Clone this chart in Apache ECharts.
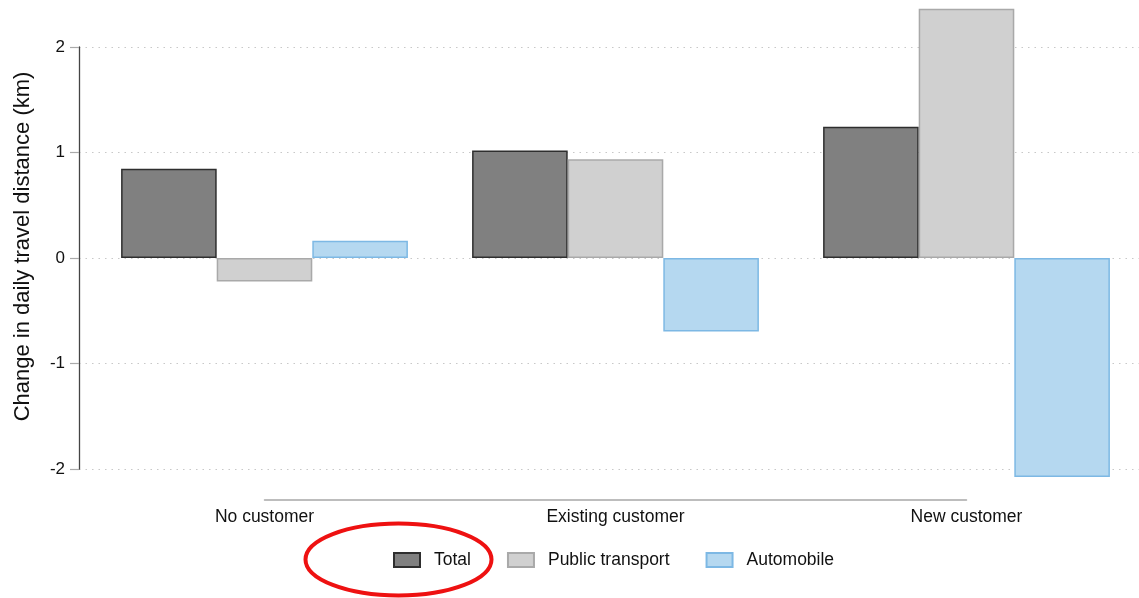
<!DOCTYPE html>
<html>
<head>
<meta charset="utf-8">
<script src="https://cdn.jsdelivr.net/npm/echarts@6/dist/echarts.min.js"></script>
<style>
  html, body { margin: 0; padding: 0; background: #fff; }
  #chart { width: 1139px; height: 598px; }
</style>
</head>
<body>
<div id="chart"></div>
<script>
// Change in daily travel distance by customer group and mode
const categories = ['No customer', 'Existing customer', 'New customer'];
const seriesNames = ['Total', 'Public transport', 'Automobile'];
const totalValues = [0.846, 1.02, 1.245];
const publicTransportValues = [-0.222, 0.935, 2.363];
const automobileValues = [0.164, -0.696, -2.076];
const yTicks = [-2, -1, 0, 1, 2];

const FONT = '"Liberation Sans", Arial, Helvetica, sans-serif';
const styles = [
  { fill: '#808080', border: '#2e2e2e' },
  { fill: '#d0d0d0', border: '#a9a9a9' },
  { fill: '#b5d8f0', border: '#7db8e4' }
];
const valueSets = [totalValues, publicTransportValues, automobileValues];

const yMin = yTicks[0], yMax = yTicks[yTicks.length - 1];

const chart = echarts.init(document.getElementById('chart'), null, { renderer: 'canvas' });

chart.setOption({
  backgroundColor: '#ffffff',
  animation: false,
  textStyle: { fontFamily: FONT },
  grid: [
    // bars: first and last category sit on the ends of the axis line
    { left: 264.5, right: 172.5, top: 47, bottom: 129, containLabel: false },
    // value axis with its dotted guide lines
    { left: 79, right: 0, top: 47, bottom: 129, containLabel: false }
  ],
  xAxis: [
    {
      type: 'category', gridIndex: 0, data: categories, boundaryGap: false,
      offset: 31,
      axisLine: { show: true, onZero: false, lineStyle: { color: '#a8a8a8', width: 1.5 } },
      axisTick: { show: false },
      axisLabel: { color: '#111', fontSize: 17.5, fontFamily: FONT, margin: 8 },
      splitLine: { show: false }
    },
    { type: 'value', gridIndex: 1, show: false, min: 0, max: 1 }
  ],
  yAxis: [
    { type: 'value', gridIndex: 0, show: false, min: yMin, max: yMax, interval: 1 },
    {
      type: 'value', gridIndex: 1, min: yMin, max: yMax, interval: 1,
      name: 'Change in daily travel distance (km)',
      nameLocation: 'middle', nameGap: 45,
      nameTextStyle: { color: '#111', fontSize: 22, fontFamily: FONT, padding: [0, 0, 0, 23] },
      axisLine: { show: true, lineStyle: { color: '#444', width: 1.3 } },
      axisTick: { show: true, length: 9, lineStyle: { color: '#aaa', width: 1.2 } },
      axisLabel: { color: '#111', fontSize: 17, fontFamily: FONT, margin: 14 },
      splitLine: { show: true, lineStyle: { color: '#c8c8c8', width: 1.2, type: [1.5, 5] } }
    }
  ],
  legend: {
    data: seriesNames,
    icon: 'rect',
    left: 393, top: 551, padding: 0,
    itemWidth: 26, itemHeight: 14, itemGap: 36,
    textStyle: { color: '#111', fontSize: 17.5, fontFamily: FONT, padding: [0, 0, 0, 9] }
  },
  series: seriesNames.map((name, i) => ({
    name: name,
    type: 'bar',
    xAxisIndex: 0, yAxisIndex: 0,
    data: valueSets[i],
    barWidth: 95.6,
    barGap: '0%',
    clip: false,
    itemStyle: { color: styles[i].fill, borderColor: styles[i].border, borderWidth: 1.5 }
  })),
  graphic: [
    {
      type: 'ellipse', z: 100,
      shape: { cx: 398.5, cy: 559.5, rx: 93, ry: 36 },
      style: { fill: 'none', stroke: '#ee1111', lineWidth: 4 }
    }
  ]
});
</script>
</body>
</html>
